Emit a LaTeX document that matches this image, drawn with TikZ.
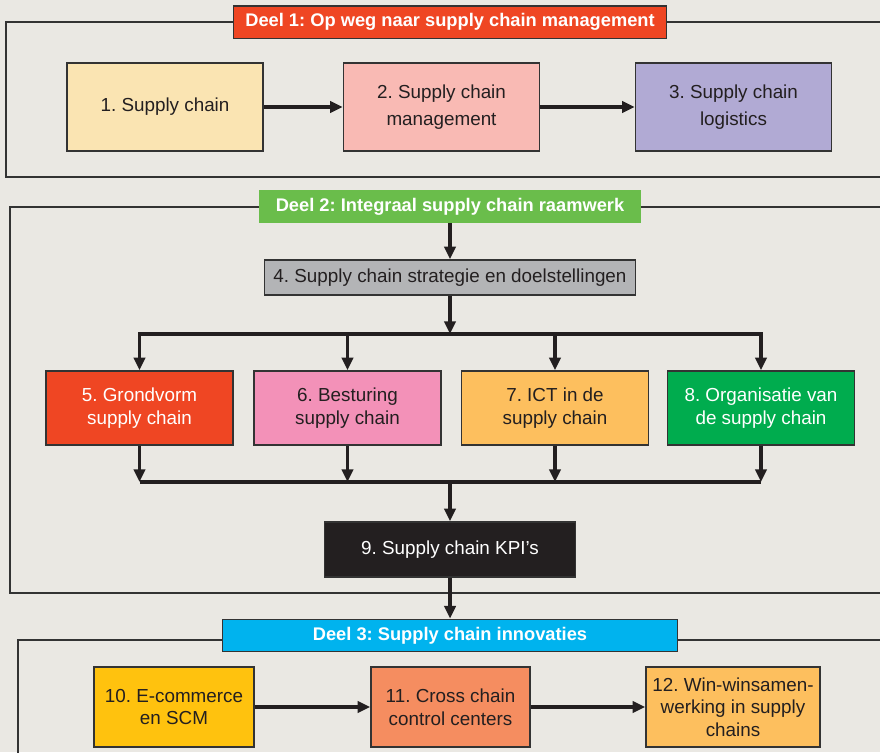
\documentclass[tikz,border=0pt]{standalone}
\usepackage{fontspec}
\setmainfont{Liberation Sans}
\usepackage{tikz}
\usetikzlibrary{arrows.meta, positioning, calc}
\definecolor{achtergrond}{HTML}{EAE8E3}
\definecolor{lijnGrijs}{HTML}{333333}
\definecolor{tekstDonker}{HTML}{231F20}
\definecolor{deelRood}{HTML}{EF4623}
\definecolor{deelGroen}{HTML}{6ABD4B}
\definecolor{deelBlauw}{HTML}{00B3EE}
\definecolor{vakCreme}{HTML}{FAE4B2}
\definecolor{vakZalm}{HTML}{F9BAB4}
\definecolor{vakLila}{HTML}{B1AAD4}
\definecolor{vakGrijs}{HTML}{B3B4B6}
\definecolor{vakRoze}{HTML}{F391B8}
\definecolor{vakOranje}{HTML}{FDBF5E}
\definecolor{vakGroen}{HTML}{00AC4E}
\definecolor{vakGeel}{HTML}{FFC20E}
\definecolor{vakKoraal}{HTML}{F58D60}
\frenchspacing

\begin{document}
\begin{tikzpicture}[x=0.025cm, y=-0.025cm,
        box/.style={draw=lijnGrijs, line width=1pt, align=center, inner sep=2pt,
            text=tekstDonker, font=\fontsize{13.4pt}{16pt}\selectfont},
        boxa/.style={box, minimum width=4.9cm, minimum height=2.2cm,
            font=\fontsize{13.4pt}{19pt}\selectfont},
        boxb/.style={box, minimum width=4.675cm, minimum height=1.85cm},
        boxc/.style={box, minimum height=2cm},
        kop/.style={draw=lijnGrijs, line width=1pt, text=white, minimum height=0.81cm,
            inner sep=0pt, font=\bfseries\fontsize{13pt}{15pt}\selectfont},
        paneel/.style={draw=lijnGrijs, line width=1pt},
        pijl/.style={-{Triangle[length=9pt, width=8pt]}, line width=2.3pt, tekstDonker},
        lijn/.style={line width=2.3pt, tekstDonker}
    ]
        \clip (0,0) rectangle (880,752);
        \fill[achtergrond] (0,0) rectangle (880,752);

        % kaders van de drie delen
        \draw[paneel] (6,22) rectangle (900,177);
        \draw[paneel] (10,207) rectangle (900,593);
        \draw[paneel] (18,640) rectangle (900,800);

        % deel 1
        \node[kop, fill=deelRood, minimum width=10.825cm] (deel1) at (450,22) {Deel 1: Op weg naar supply chain management};
        \node[boxa, fill=vakCreme] (sc) at (165,107) {1. Supply chain};
        \node[boxa, fill=vakZalm] (scm) at (441.5,107) {2. Supply chain\\management};
        \node[boxa, fill=vakLila] (scl) at (733.5,107) {3. Supply chain\\logistics};

        % deel 2
        \node[kop, draw=none, fill=deelGroen, minimum width=9.55cm] (deel2) at (450,206.5) {Deel 2: Integraal supply chain raamwerk};
        \node[box, fill=vakGrijs, minimum width=9.275cm, minimum height=0.875cm] (strat) at (450,277.5) {4. Supply chain strategie en doelstellingen};
        \coordinate (split) at (450,334);
        \node[boxb, fill=deelRood, text=white] (grond) at (139.5,408) {5. Grondvorm\\supply chain};
        \node[boxb, fill=vakRoze] (best) at (347.5,408) {6. Besturing\\supply chain};
        \node[boxb, fill=vakOranje] (ict) at (555,408) {7. ICT in de\\supply chain};
        \node[boxb, fill=vakGroen, text=white] (org) at (761,408) {8. Organisatie van\\de supply chain};
        \coordinate (merge) at (450,482);
        \coordinate (mgrond) at (grond.south |- merge);
        \coordinate (mbest) at (best.south |- merge);
        \coordinate (mict) at (ict.south |- merge);
        \coordinate (morg) at (org.south |- merge);
        \node[box, fill=tekstDonker, text=white, minimum width=6.275cm, minimum height=1.375cm] (kpi) at (450,549.5) {9. Supply chain KPI’s};

        % deel 3
        \node[kop, fill=deelBlauw, minimum width=11.375cm] (deel3) at (450,635.5) {Deel 3: Supply chain innovaties};
        \node[boxc, fill=vakGeel, minimum width=4cm] (ecom) at (174,707) {10. E-commerce\\en SCM};
        \node[boxc, fill=vakKoraal, minimum width=3.975cm] (ccc) at (450.5,707) {11. Cross chain\\control centers};
        \node[boxc, fill=vakOranje, minimum width=4.35cm] (win) at (733,707) {12. Win-winsamen-\\werking in supply\\chains};

        \draw[pijl] (sc) -- (scm);
        \draw[pijl] (scm) -- (scl);
        \draw[pijl] (deel2) -- (strat);
        \draw[pijl] (strat) -- (split);
        \draw[pijl] (split) -| (grond);
        \draw[pijl] (split) -| (best);
        \draw[pijl] (split) -| (ict);
        \draw[pijl] (split) -| (org);
        \draw[pijl] (grond) -- (mgrond);
        \draw[pijl] (best) -- (mbest);
        \draw[pijl] (ict) -- (mict);
        \draw[pijl] (org) -- (morg);
        \draw[lijn] (mgrond) -- (morg);
        \draw[pijl] (merge) -- (kpi);
        \draw[pijl] (kpi) -- (deel3);
        \draw[pijl] (ecom) -- (ccc);
        \draw[pijl] (ccc) -- (win);
    \end{tikzpicture}
\end{document}
